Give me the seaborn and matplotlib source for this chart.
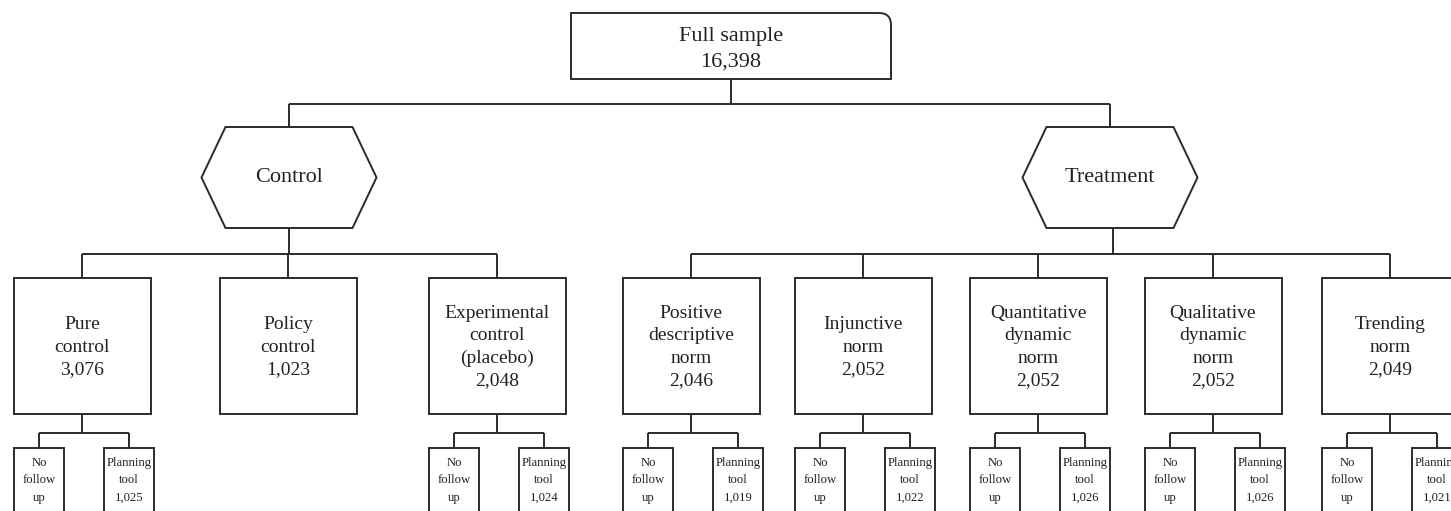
import matplotlib
matplotlib.use("Agg")
import matplotlib.pyplot as plt
from matplotlib.patches import Rectangle, Polygon, PathPatch
from matplotlib.path import Path
import seaborn as sns

# data
top_label = "Full sample"
top_n = 16398
arm_labels = ["Control", "Treatment"]
group_labels = ["Pure\ncontrol", "Policy\ncontrol", "Experimental\ncontrol\n(placebo)",
                "Positive\ndescriptive\nnorm", "Injunctive\nnorm", "Quantitative\ndynamic\nnorm",
                "Qualitative\ndynamic\nnorm", "Trending\nnorm"]
group_n = [3076, 1023, 2048, 2046, 2052, 2052, 2052, 2049]
group_arm = [0, 0, 0, 1, 1, 1, 1, 1]
no_followup_label = "No\nfollow\nup"
planning_label = "Planning\ntool"
planning_n = [1025, None, 1024, 1019, 1022, 1026, 1026, 1021]

# layout (pixels)
top_x, top_y0, top_y1, top_w = 731, 13, 79, 320
arm_x = [289, 1110]
arm_y0, arm_y1, arm_w, arm_ind = 127, 228, 175, 24
group_x = [82, 288, 497, 691, 863, 1038, 1213, 1390]
grp_y0, grp_y1, grp_w = 278, 414, 137
bus1_y, bus2_y, bus3_y = 104, 254, 433
small_y0, small_w = 448, 50

sns.set_theme(style="white")
plt.rcParams['font.family'] = ['Liberation Serif', 'DejaVu Serif']

LC = "#2b2b2b"
LW = 1.4

fig = plt.figure(figsize=(14.51, 5.11), dpi=100)
ax = fig.add_axes([0, 0, 1, 1])
ax.set_xlim(0, 1451)
ax.set_ylim(511, 0)
ax.axis("off")


def line(xs, ys):
    ax.plot(xs, ys, color=LC, lw=LW, solid_capstyle="butt")


# top box with one rounded corner (top right)
x0, x1 = top_x - top_w / 2, top_x + top_w / 2
r = 12
verts = [(x0, top_y0), (x1 - r, top_y0), (x1, top_y0), (x1, top_y0 + r),
         (x1, top_y1), (x0, top_y1), (x0, top_y0)]
codes = [Path.MOVETO, Path.LINETO, Path.CURVE3, Path.CURVE3,
         Path.LINETO, Path.LINETO, Path.CLOSEPOLY]
ax.add_patch(PathPatch(Path(verts, codes), fc="white", ec=LC, lw=LW))
ax.text(top_x, (top_y0 + top_y1) / 2 + 3, f"{top_label}\n{top_n:,}", ha="center", va="center",
        fontsize=16, linespacing=1.45, color="#222")

# connectors to arms
line([top_x, top_x], [top_y1, bus1_y])
line([arm_x[0], arm_x[1]], [bus1_y, bus1_y])
for ax_x in arm_x:
    line([ax_x, ax_x], [bus1_y, arm_y0])

# hexagons
ym = (arm_y0 + arm_y1) / 2
for i, cx in enumerate(arm_x):
    hw = arm_w / 2
    pts = [(cx - hw, ym), (cx - hw + arm_ind, arm_y0), (cx + hw - arm_ind, arm_y0),
           (cx + hw, ym), (cx + hw - arm_ind, arm_y1), (cx - hw + arm_ind, arm_y1)]
    ax.add_patch(Polygon(pts, closed=True, fc="white", ec=LC, lw=LW))
    ax.text(cx, ym, arm_labels[i], ha="center", va="center", fontsize=16, color="#222")

# connectors to groups
for a in range(len(arm_labels)):
    xs = [gx for gx, ga in zip(group_x, group_arm) if ga == a]
    line([arm_x[a] + 3 * a, arm_x[a] + 3 * a], [arm_y1, bus2_y])
    line([min(xs), max(xs)], [bus2_y, bus2_y])
    for gx in xs:
        line([gx, gx], [bus2_y, grp_y0])

# group boxes and planning-tool split
for gx, lab, n, pn in zip(group_x, group_labels, group_n, planning_n):
    ax.add_patch(Rectangle((gx - grp_w / 2, grp_y0), grp_w, grp_y1 - grp_y0,
                           fc="white", ec=LC, lw=LW))
    ax.text(gx, (grp_y0 + grp_y1) / 2 + 1, f"{lab}\n{n:,}", ha="center", va="center",
            fontsize=14, linespacing=1.4, color="#222")
    if pn is None:
        continue
    lx, rx = gx - 43, gx + 47
    line([gx, gx], [grp_y1, bus3_y])
    line([lx, rx], [bus3_y, bus3_y])
    for sx, txt in [(lx, no_followup_label), (rx, f"{planning_label}\n{pn:,}")]:
        line([sx, sx], [bus3_y, small_y0])
        ax.add_patch(Rectangle((sx - small_w / 2, small_y0), small_w, 80,
                               fc="white", ec=LC, lw=LW))
        ax.text(sx, small_y0 + 9, txt, ha="center", va="top", fontsize=9.2,
                linespacing=1.6, color="#222")

fig.savefig("out.png", dpi=100, facecolor="white")
